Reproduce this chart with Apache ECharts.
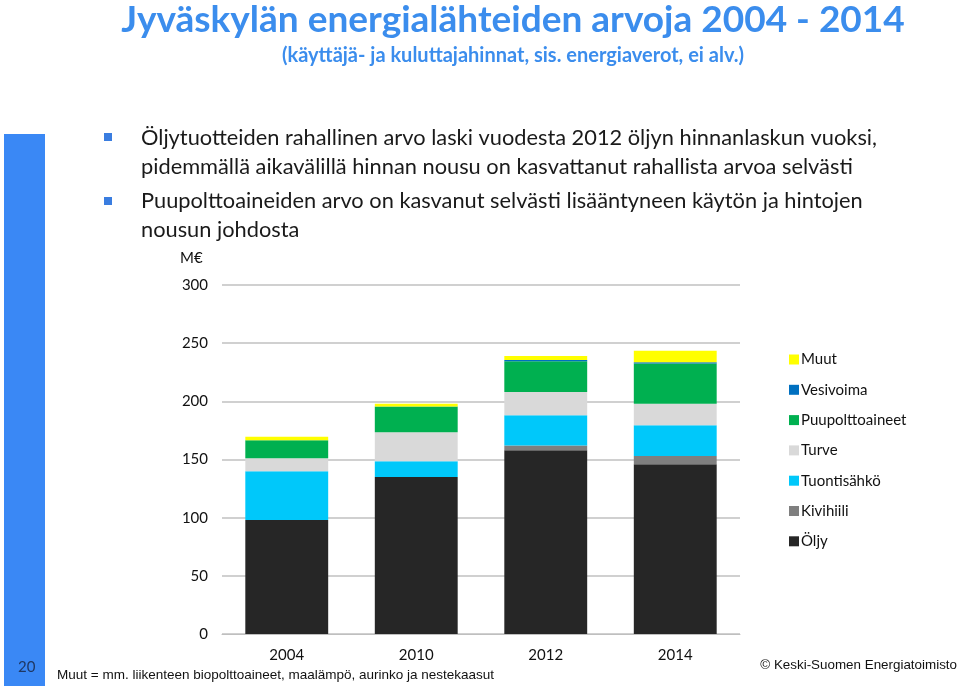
<!DOCTYPE html>
<html><head><meta charset="utf-8">
<script src="https://cdn.jsdelivr.net/npm/echarts@6/dist/echarts.min.js"></script>
<style>html,body{margin:0;padding:0;background:#fff}#c{width:960px;height:686px}</style>
</head><body><div id="c"></div>
<script>
const categories = ['2004', '2010', '2012', '2014'];
const oljy        = [98, 135, 158, 146];
const kivihiili   = [0, 0, 4, 7];
const tuontisahko = [42, 13.5, 26, 26.5];
const turve       = [11, 25, 20, 18.5];
const puu         = [15.5, 22, 26.5, 34.5];
const vesivoima   = [0, 0, 1, 1];
const muut        = [3, 2.5, 3.5, 10];
const yTicks = [0, 50, 100, 150, 200, 250, 300];

const seriesDefs = [
  ['Öljy', oljy, '#262626'],
  ['Kivihiili', kivihiili, '#7f7f7f'],
  ['Tuontisähkö', tuontisahko, '#00c8fa'],
  ['Turve', turve, '#d9d9d9'],
  ['Puupolttoaineet', puu, '#00b050'],
  ['Vesivoima', vesivoima, '#0070c0'],
  ['Muut', muut, '#ffff00']
];

const chart = echarts.init(document.getElementById('c'));
const bodyFont = 'Lato, "Open Sans", sans-serif';
const footFont = '"Liberation Sans", Arial, sans-serif';
chart.setOption({
  animation: false,
  grid: { left: 222, right: 220, top: 285, bottom: 52 },
  legend: {
    orient: 'vertical', left: 784, top: 347,
    data: ['Muut', 'Vesivoima', 'Puupolttoaineet', 'Turve', 'Tuontisähkö', 'Kivihiili', 'Öljy'],
    icon: 'rect', itemWidth: 10, itemHeight: 10, itemGap: 15.3,
    textStyle: { fontFamily: bodyFont, fontSize: 15, color: '#111', lineHeight: 15, padding: [0,0,0,-3] }
  },
  xAxis: {
    type: 'category', data: categories,
    axisLine: { lineStyle: { color: '#bfbfbf' } },
    axisTick: { show: false },
    axisLabel: { fontFamily: bodyFont, fontSize: 15, color: '#111', margin: 14 }
  },
  yAxis: {
    type: 'value', min: 0, max: 300, interval: 50,
    axisLine: { show: false }, axisTick: { show: false },
    axisLabel: { fontFamily: bodyFont, fontSize: 15, color: '#111', margin: 14,
      formatter: v => yTicks.includes(v) ? String(v) : '' },
    splitLine: { lineStyle: { color: '#c0c0c0', width: 1.5 } }
  },
  series: seriesDefs.map(([name, data, color]) => ({
    name, type: 'bar', stack: 'total', data, barWidth: '64%',
    itemStyle: { color }
  })),
  graphic: [
    { type: 'rect', shape: { x: 4, y: 134, width: 41, height: 552 }, style: { fill: '#3a88f5' } },
    { type: 'text', left: 18, top: 660, style: { text: '20', font: '15px ' + bodyFont, fill: '#1f3864' } },
    { type: 'text', x: 513, y: 20, style: { text: 'Jyväskylän energialähteiden arvoja 2004 - 2014', font: 'bold 37px ' + bodyFont, fill: '#3b8ded', align: 'center', verticalAlign: 'middle' } },
    { type: 'text', x: 513, y: 56, style: { text: '(käyttäjä- ja kuluttajahinnat, sis. energiaverot, ei alv.)', font: 'bold 20px ' + bodyFont, fill: '#3b8ded', align: 'center', verticalAlign: 'middle' } },
    { type: 'rect', shape: { x: 104, y: 133, width: 8, height: 8 }, style: { fill: '#3a7de0' } },
    { type: 'rect', shape: { x: 104, y: 197, width: 8, height: 8 }, style: { fill: '#3a7de0' } },
    { type: 'text', x: 141, y: 138, style: { text: 'Öljytuotteiden rahallinen arvo laski vuodesta 2012 öljyn hinnanlaskun vuoksi,', font: '21.8px ' + bodyFont, fill: '#1a1a1a', verticalAlign: 'middle' } },
    { type: 'text', x: 141, y: 167, style: { text: 'pidemmällä aikavälillä hinnan nousu on kasvattanut rahallista arvoa selvästi', font: '21.8px ' + bodyFont, fill: '#1a1a1a', verticalAlign: 'middle' } },
    { type: 'text', x: 141, y: 201, style: { text: 'Puupolttoaineiden arvo on kasvanut selvästi lisääntyneen käytön ja hintojen', font: '21.8px ' + bodyFont, fill: '#1a1a1a', verticalAlign: 'middle' } },
    { type: 'text', x: 141, y: 230, style: { text: 'nousun johdosta', font: '21.8px ' + bodyFont, fill: '#1a1a1a', verticalAlign: 'middle' } },
    { type: 'text', x: 180, y: 258, style: { text: 'M€', font: '15px ' + bodyFont, fill: '#111', verticalAlign: 'middle' } },
    { type: 'text', x: 57, y: 675, style: { text: 'Muut = mm. liikenteen biopolttoaineet, maalämpö, aurinko ja nestekaasut', font: '13.5px ' + footFont, fill: '#111', verticalAlign: 'middle' } },
    { type: 'text', x: 957, y: 665, style: { text: '© Keski-Suomen Energiatoimisto', font: '13.4px ' + footFont, fill: '#111', align: 'right', verticalAlign: 'middle' } }
  ]
});
</script></body></html>
